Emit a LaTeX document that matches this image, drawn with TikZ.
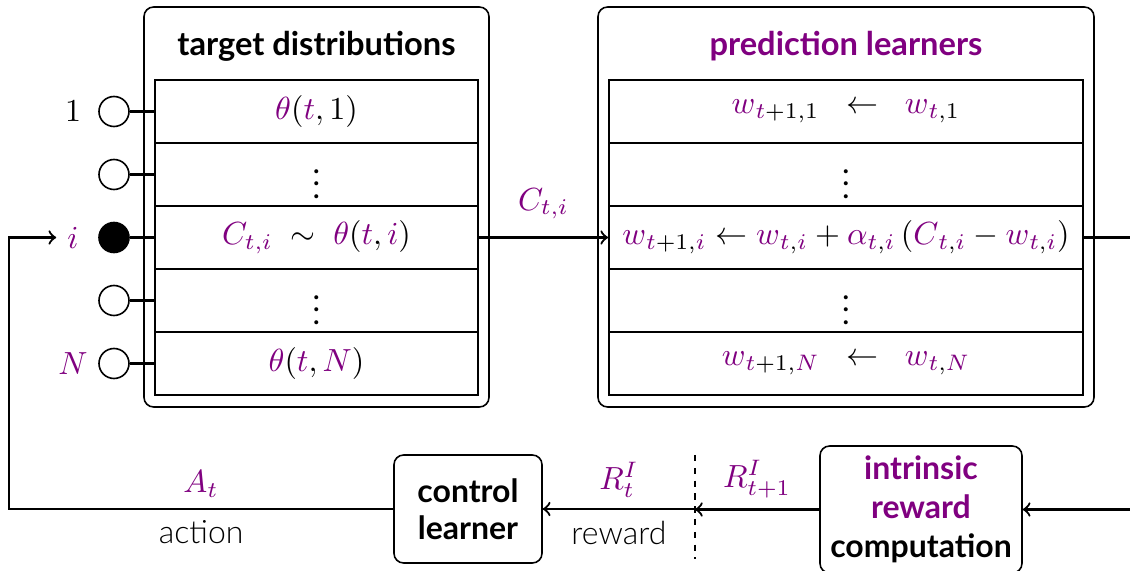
\documentclass[tikz,border=0pt]{standalone}
\usepackage{fontspec}
\setmainfont{Lato}
\newfontfamily\lightfont{Lato Light}
\definecolor{pur}{RGB}{128,0,128}
\newcommand\pv[1]{\textcolor{pur}{#1}}
\begin{document}
\begin{tikzpicture}[x=0.3125pt,y=-0.3125pt,
  outerbox/.style={draw, rounded corners=3pt, line width=0.5pt, minimum width=#1*0.3125pt, minimum height=400*0.3125pt, inner sep=0pt},
  rowbox/.style={draw, line width=0.55pt, minimum width=#1*0.3125pt, minimum height=63*0.3125pt, inner sep=0pt},
  dot/.style={circle, draw, line width=0.5pt, minimum size=30*0.3125pt, inner sep=0pt},
  unit/.style={draw, rounded corners=3pt, line width=0.5pt, align=center, inner sep=0pt},
  conn/.style={line width=0.7pt},
  title/.style={font=\fontsize{10.2}{12}\selectfont\bfseries},
  lbl/.style={font=\lightfont}
]
\clip (0,0) rectangle (1130,571);
\fill[white] (0,0) rectangle (1130,571);

% outer containers
\node[outerbox=345] (ldist) at (316.5,207) {};
\node[outerbox=496] (rlearn) at (846,207) {};
\node[title] (ltitle) at (316.5,46) {target distributions};
\node[title, text=pur] (rtitle) at (846,46) {prediction learners};

% left rows
\node[rowbox=323] (l1) at (316.5,111.5) {$\pv{\theta}(\pv{t},1)$};
\node[rowbox=323] (l2) at (316.5,174.5) {$\vdots$};
\node[rowbox=323] (l3) at (316.5,237.5) {$\pv{C_{t,i}}\;\sim\;\pv{\theta}(\pv{t},\pv{i})$};
\node[rowbox=323] (l4) at (316.5,300.5) {$\vdots$};
\node[rowbox=323] (l5) at (316.5,363.5) {$\pv{\theta}(\pv{t},\pv{N})$};

% right rows
\node[rowbox=474] (r1) at (846,111.5) {$\pv{w}_{\pv{t}+1,1}\;\;\leftarrow\;\;\pv{w}_{\pv{t},1}$};
\node[rowbox=474] (r2) at (846,174.5) {$\vdots$};
\node[rowbox=474] (r3) at (846,237.5) {$\pv{w}_{\pv{t}+1,\pv{i}}\leftarrow\pv{w}_{\pv{t},\pv{i}}+\pv{\alpha}_{\pv{t},\pv{i}}\,(\pv{C}_{\pv{t},\pv{i}}-\pv{w}_{\pv{t},\pv{i}})$};
\node[rowbox=474] (r4) at (846,300.5) {$\vdots$};
\node[rowbox=474] (r5) at (846,363.5) {$\pv{w}_{\pv{t}+1,\pv{N}}\;\;\leftarrow\;\;\pv{w}_{\pv{t},\pv{N}}$};

% selector circles
\node[dot] (c1) at (114,111.5) {};
\node[dot] (c2) at (114,174.5) {};
\node[dot, fill=black] (c3) at (114,237.5) {};
\node[dot] (c4) at (114,300.5) {};
\node[dot] (c5) at (114,363.5) {};
\foreach \k in {1,...,5} {\draw[line width=0.65pt] (c\k) -- (l\k);}

\node (lab1) at (73,111.5) {$1$};
\node (labi) at (73,237.5) {$\pv{i}$};
\node (labN) at (73,363.5) {$\pv{N}$};

% bottom units
\node[unit, minimum width=148*0.3125pt, minimum height=108*0.3125pt, font={\fontsize{10}{11.6}\selectfont\bfseries}] (ctrl) at (468,509) {control\\learner};
\node[unit, minimum width=202*0.3125pt, minimum height=127*0.3125pt, font={\fontsize{10}{12.2}\selectfont\bfseries}] (intr) at (921,509.5) {\pv{intrinsic}\\\pv{reward}\\computation};

% dashed separator
\coordinate (dtop) at (695,455);
\coordinate (dbot) at (695,559);
\draw[line width=0.45pt, dash pattern=on 2pt off 2pt] (dtop) -- (dbot);

\coordinate (corner) at (9,400);
\coordinate (redge) at (1150,400);

% connectors
\draw[conn,->] (l3.east) -- node[above=2pt]{$\pv{C_{t,i}}$} (r3.west);
\draw[conn,->] (r3.east) -| (redge) |- (intr.east);
\draw[conn,->] (intr.west) -- node[above]{$\pv{R^I_{t+1}}$} (dtop |- intr.west);
\draw[conn,->] (dtop |- ctrl.east) -- node[above]{$\pv{R^I_t}$} node[below, lbl]{reward} (ctrl.east);
\draw[conn,->] (ctrl.west) -| node[pos=0.25,above]{$\pv{A_t}$} node[pos=0.25,below,lbl]{action} (corner) |- (labi.west);
\end{tikzpicture}
\end{document}
